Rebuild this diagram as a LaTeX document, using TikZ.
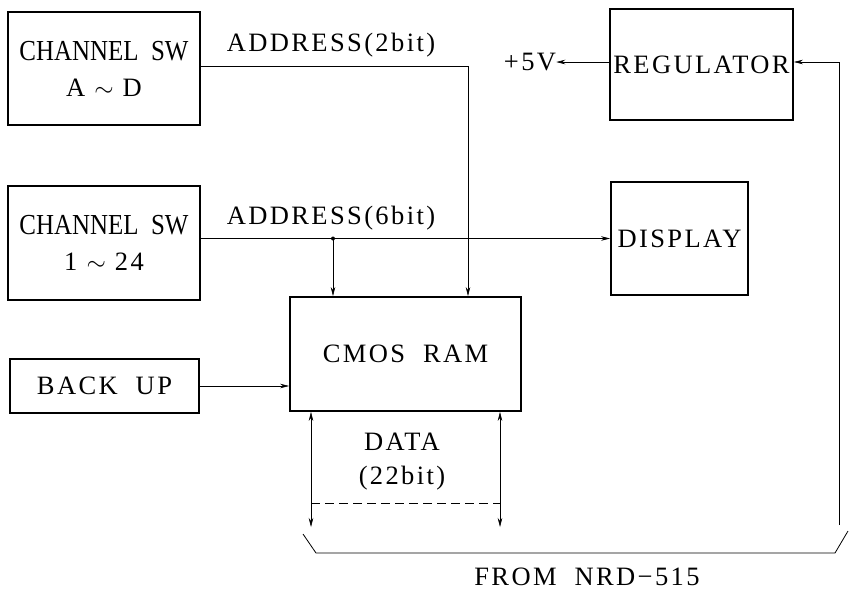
\documentclass[tikz,border=0pt]{standalone}
\usepackage{fontspec}
\usepackage{graphicx}
\setmainfont{Liberation Serif}
\newfontfamily\spaced[LetterSpace=9]{Liberation Serif}
\newcommand{\chsw}{\scalebox{0.86}[1]{\rmfamily\fontsize{29}{36}\selectfont CHANNEL\ \ SW}}
\usetikzlibrary{arrows.meta}

\begin{document}
\begin{tikzpicture}[x=1pt,y=-1pt]
\tikzstyle{block} = [draw, line width=1.8pt, inner sep=0pt, align=center, font=\spaced\fontsize{26.5}{36}\selectfont]
\tikzstyle{lbl} = [inner sep=0pt, font=\spaced\fontsize{26.5}{36}\selectfont]
\tikzstyle{arr} = [-{Stealth[length=9pt,width=4.5pt]}, line width=0.6pt]
\tikzstyle{arrboth} = [{Stealth[length=9pt,width=4.5pt]}-{Stealth[length=9pt,width=4.5pt]}, line width=0.6pt]
\useasboundingbox (0,0) rectangle (849,590);
% blocks
\node[block, minimum width=192pt, minimum height=113pt] (swad) at (104,68.5)
	{\chsw\\A $\sim$ D};
\node[block, minimum width=192pt, minimum height=114pt] (swnum) at (104,243)
	{\chsw\\1 $\sim$ 24};
\node[block, minimum width=189pt, minimum height=54pt] (backup) at (104.5,386) {BACK\ \ UP};
\node[block, minimum width=231pt, minimum height=114pt] (cmos) at (405.5,354) {CMOS\ \ RAM};
\node[block, minimum width=183pt, minimum height=111pt] (reg) at (701.5,64.5) {REGULATOR};
\node[block, minimum width=137pt, minimum height=113pt] (disp) at (679.5,238.5) {DISPLAY};
% labels
\node[lbl] (adr2) at (331,45) {ADDRESS(2bit)};
\node[lbl] (adr6) at (331,218) {ADDRESS(6bit)};
\node[lbl] (vout) at (530,62) {+5V};
\node[lbl] (data) at (402,442) {DATA};
\node[lbl] (width) at (402,478) {(22bit)};
\node[lbl] (src) at (587,577) {FROM\ \ NRD−515};
% connectors
\coordinate (tap2) at (468,66);
\coordinate (tap6) at (333,238.5);
\coordinate (rin) at (839,525);
\coordinate (d1) at (311,527);
\coordinate (d2) at (500,527);
\draw[arr] (swad.east |- tap2) -- (tap2) -- (tap2 |- cmos.north);
\draw[arr] (swnum.east |- disp.west) -- (disp.west);
\fill (tap6) circle (2pt);
\draw[arr] (tap6) -- (tap6 |- cmos.north);
\draw[arr] (backup.east) -- (backup.east -| cmos.west);
\draw[arr] (reg.west |- vout) -- (vout.east);
\draw[arr] (rin) |- (reg.east |- vout);
\draw[arrboth] (d1 |- cmos.south) -- (d1);
\draw[arrboth] (d2 |- cmos.south) -- (d2);
\draw[dashed, dash pattern=on 9pt off 5pt, line width=0.7pt] ([yshift=24pt]d1) -- ([yshift=24pt]d2);
% connector strip
\draw[line width=0.8pt] (303,534) -- (316,553) -- (835,553) -- (848,531);
\end{tikzpicture}
\end{document}
